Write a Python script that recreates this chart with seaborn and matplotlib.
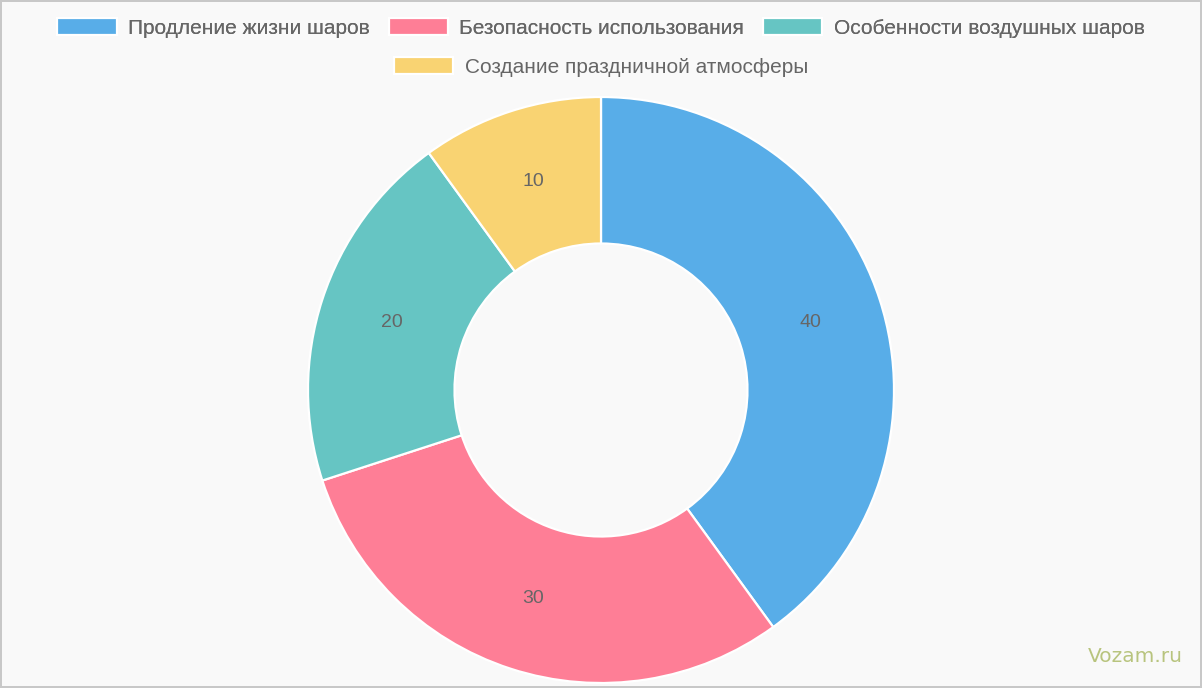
import matplotlib
matplotlib.use("Agg")
import matplotlib.pyplot as plt
import seaborn as sns

categories = ["Продление жизни шаров", "Безопасность использования",
              "Особенности воздушных шаров", "Создание праздничной атмосферы"]
values = [40, 30, 20, 10]
colors = ["#58ADE8", "#FE7E96", "#66C5C3", "#F9D372"]

sns.set_theme(style="white")
plt.rcParams["font.family"] = ["Liberation Sans", "DejaVu Sans"]

W, H = 1202, 688
fig = plt.figure(figsize=(W / 100, H / 100), dpi=100)
fig.patch.set_facecolor("#f9f9f9")
fig.patch.set_edgecolor("#c8c8c8")
fig.patch.set_linewidth(1.5)

# donut centre (601, 390) px, radius 293 px
cx, cy, r = 601, 390, 293
ax = fig.add_axes([(cx - r) / W, (H - cy - r) / H, 2 * r / W, 2 * r / H])
ax.set_facecolor("none")

wedges, texts, autotexts = ax.pie(
    values, colors=colors, startangle=90, counterclock=False,
    radius=1, autopct=lambda p: f"{p * sum(values) / 100:.0f}", pctdistance=0.75,
    wedgeprops=dict(width=0.5, edgecolor="white", linewidth=1.6),
    textprops=dict(color="#666666", fontsize=14))
ax.set_xlim(-1, 1)
ax.set_ylim(-1, 1)
ax.set_aspect("equal")
ax.axis("off")

leg_kw = dict(frameon=False, loc="center", fontsize=15, labelcolor="#666666",
              handlelength=2.85, handleheight=0.85, handletextpad=0.55,
              columnspacing=0.9, borderaxespad=0, borderpad=0)
leg1 = fig.legend(wedges[:3], categories[:3], ncol=3,
                  bbox_to_anchor=(0.5, 1 - 28 / H), **leg_kw)
fig.add_artist(leg1)
fig.legend(wedges[3:], categories[3:], ncol=1,
           bbox_to_anchor=(0.5, 1 - 67 / H), **leg_kw)

fig.text(1135 / W, 1 - 657 / H, "Vozam.ru", color="#b8c47e", fontsize=14.5,
         ha="center", va="center", family=["DejaVu Sans"])

fig.savefig("out.png", dpi=100, facecolor=fig.get_facecolor(),
            edgecolor=fig.get_edgecolor())
